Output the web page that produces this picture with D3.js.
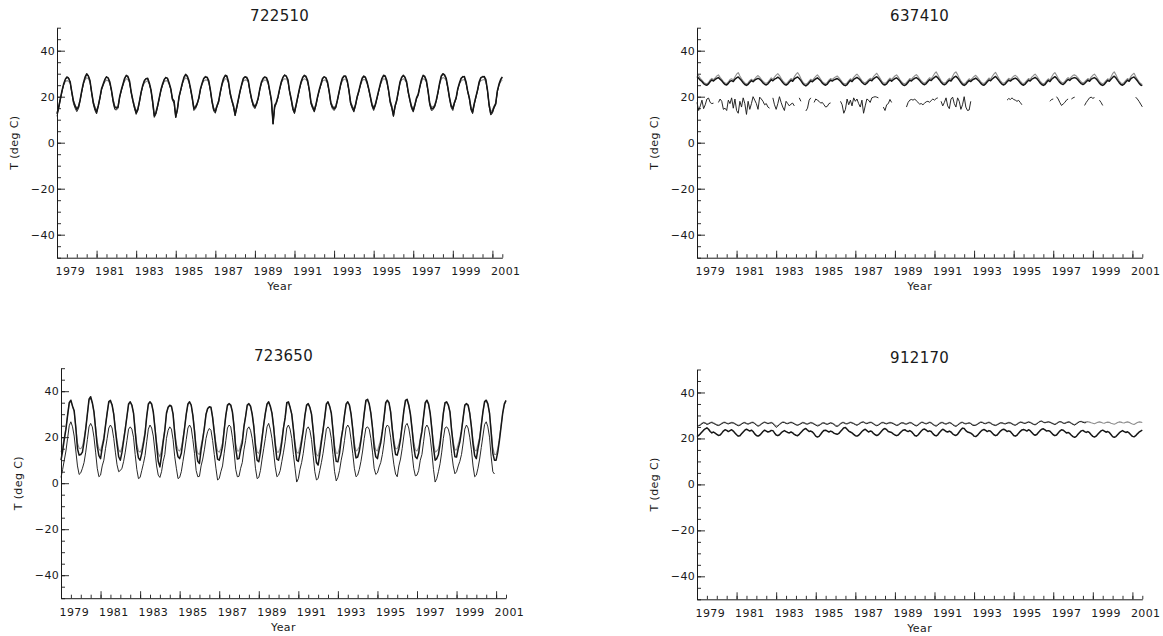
<!DOCTYPE html>
<html><head><meta charset="utf-8">
<script src="https://cdn.jsdelivr.net/npm/d3@7"></script>
<style>
body{margin:0;background:#fff}
text{font-family:"DejaVu Sans",sans-serif;fill:#1a1a1a}
</style>
</head><body>
<svg id="chart" width="1163" height="636"></svg>
<script>
// ---------------- data ----------------
const startYear = 1979;            // first month = Jan 1979, monthly values
const xDomain = [1979, 2001.5];
const yDomain = [-50, 50];
const xTickYears = [1979,1981,1983,1985,1987,1989,1991,1993,1995,1997,1999,2001];
const yTickValues = [-40,-20,0,20,40];
const stationIds = ["722510","637410","723650","912170"];

// 722510
const s722510_thick = [
[12.5,15.5,19.0,22.5,25.5,27.5,28.6,28.0,26.5,22.0,18.0,16.0],
[14.5,15.5,18.5,22.5,26.0,28.5,30.0,29.0,27.0,22.0,17.5,15.0],
[13.3,16.0,19.5,23.5,25.5,27.5,28.6,28.2,26.5,23.0,18.5,15.5],
[15.0,15.5,20.0,23.0,25.5,28.0,29.3,28.8,26.8,22.0,18.5,15.5],
[13.0,14.5,18.0,22.0,25.0,27.0,27.8,28.0,26.0,23.0,18.0,11.6],
[13.0,16.0,19.5,23.0,25.5,27.5,28.3,28.0,26.0,23.5,19.0,18.0],
[11.3,14.5,20.0,23.0,26.0,28.5,29.7,29.0,27.0,23.5,19.5,14.8],
[15.5,17.0,19.5,23.5,26.0,28.0,28.6,28.5,27.0,23.0,18.0,14.5],
[13.6,16.0,18.0,22.0,25.5,28.0,29.3,29.0,26.5,21.5,18.5,16.0],
[12.2,15.5,19.0,22.5,25.5,28.0,28.6,28.5,27.0,22.5,19.0,16.5],
[15.5,17.0,19.5,23.5,26.5,28.0,28.6,28.3,26.5,22.5,18.5,8.4],
[16.0,17.5,20.0,23.5,26.5,28.5,29.3,29.0,27.5,22.5,19.0,15.0],
[13.3,16.5,20.0,23.5,26.5,28.5,29.3,28.8,27.0,23.0,17.5,15.5],
[14.0,16.5,20.0,23.0,25.5,28.0,28.6,28.3,26.5,22.5,17.5,15.5],
[14.8,15.5,18.5,22.0,25.5,28.0,29.0,29.0,27.0,23.0,17.5,15.5],
[14.0,16.5,20.0,22.5,25.5,28.0,29.0,28.5,26.5,23.5,20.0,16.5],
[14.8,16.5,19.5,22.5,25.5,28.0,29.3,29.0,27.0,23.0,18.0,15.5],
[11.9,16.0,18.5,22.5,26.5,28.5,29.3,28.5,26.5,22.0,18.5,15.5],
[14.0,16.5,19.5,21.0,24.5,27.5,29.3,28.8,27.0,22.5,17.0,14.8],
[15.0,16.0,18.5,22.0,26.0,29.0,30.0,29.5,28.0,24.0,19.5,16.0],
[14.8,17.5,19.5,23.5,26.0,28.0,28.6,28.8,26.5,22.5,19.5,15.0],
[13.3,17.0,20.0,23.0,26.5,28.3,28.6,28.8,27.5,23.0,16.5,12.6],
[13.5,15.5,17.0,22.5,25.5,27.5,28.6]].flat();
const s722510_thin = [
[11.5,14.5,18.5,22.0,25.0,27.3,28.3,28.4,26.0,21.5,17.0,15.0],
[13.5,14.8,18.0,22.0,25.5,28.0,29.6,29.2,26.5,21.5,16.8,14.0],
[12.5,15.5,19.0,23.0,25.0,27.2,28.8,28.0,26.0,22.5,17.5,14.5],
[14.2,15.0,19.5,22.5,25.0,27.8,29.0,28.5,26.2,21.5,17.8,14.8],
[12.3,14.0,17.5,21.5,24.5,26.8,28.0,27.6,25.5,22.5,17.0,11.0],
[12.5,15.5,19.0,22.5,25.0,27.3,28.5,27.8,25.6,23.0,18.5,17.0],
[10.8,14.0,19.5,22.5,25.5,28.2,29.4,28.6,26.5,23.0,19.0,14.0],
[14.8,16.5,19.0,23.0,25.5,27.8,28.9,28.2,26.5,22.5,17.5,13.8],
[12.8,15.5,17.5,21.5,25.0,27.7,29.0,28.7,26.0,21.0,18.0,15.3],
[11.6,15.0,18.5,22.0,25.0,27.7,28.8,28.2,26.5,22.0,18.5,15.8],
[14.8,16.5,19.0,23.0,26.0,27.7,28.4,28.0,26.0,22.0,18.0,8.0],
[15.2,17.0,19.5,23.0,26.0,28.3,29.6,28.7,27.0,22.0,18.5,14.2],
[12.6,16.0,19.5,23.0,26.0,28.2,29.0,28.5,26.5,22.5,16.8,14.8],
[13.3,16.0,19.5,22.5,25.0,27.7,28.8,28.0,26.0,22.0,16.8,14.8],
[14.0,15.0,18.0,21.5,25.0,27.7,28.7,28.8,26.5,22.5,16.8,14.8],
[13.3,16.0,19.5,22.0,25.0,27.7,28.7,28.2,26.0,23.0,19.5,15.8],
[14.0,16.0,19.0,22.0,25.0,27.7,29.0,28.7,26.5,22.5,17.3,14.8],
[11.3,15.5,18.0,22.0,26.0,28.2,29.0,28.2,26.0,21.5,18.0,14.8],
[13.3,16.0,19.0,20.5,24.0,27.2,29.0,28.5,26.5,22.0,16.3,14.0],
[14.3,15.5,18.0,21.5,25.5,28.7,29.7,29.2,27.5,23.5,19.0,15.3],
[14.0,17.0,19.0,23.0,25.5,27.7,28.9,28.5,26.0,22.0,19.0,14.2],
[12.6,16.5,19.5,22.5,26.0,28.0,28.9,28.5,27.0,22.5,15.8,12.0],
[12.8,15.0,16.5,22.0,25.0,27.2,28.3]].flat();
const s722510_gray = [
[13.0,15.8,19.0,22.3,25.0,26.5,27.0,26.8,25.8,22.0,18.3,16.3],
[15.0,16.0,18.7,22.3,25.5,27.3,28.3,27.8,26.3,22.0,17.8,15.5],
[14.0,16.3,19.5,23.0,25.0,26.5,27.2,27.0,25.8,22.8,18.8,16.0],
[15.5,16.0,20.0,22.8,25.0,26.8,27.8,27.5,26.0,22.0,18.8,16.0],
[13.8,15.0,18.3,22.0,24.5,26.0,26.6,26.8,25.3,22.8,18.3,12.5],
[13.8,16.3,19.5,22.8,25.0,26.5,27.0,26.8,25.3,23.3,19.3,18.3],
[12.2,15.0,20.0,22.8,25.5,27.3,28.2,27.8,26.3,23.3,19.8,15.5],
[16.0,17.3,19.5,23.3,25.5,26.8,27.3,27.2,26.3,22.8,18.3,15.2],
[14.3,16.3,18.3,22.0,25.0,26.8,27.8,27.6,25.8,21.8,18.8,16.5],
[13.0,16.0,19.0,22.5,25.0,26.8,27.3,27.2,26.3,22.5,19.3,17.0],
[16.0,17.3,19.5,23.3,26.0,26.8,27.3,27.0,25.8,22.5,18.8,9.5],
[16.5,17.8,20.0,23.3,26.0,27.3,27.8,27.6,26.6,22.5,19.3,15.8],
[14.2,16.8,20.0,23.3,26.0,27.3,27.8,27.5,26.3,22.8,18.0,16.0],
[14.8,16.8,20.0,22.8,25.0,26.8,27.3,27.0,25.8,22.5,18.0,16.0],
[15.5,16.0,18.8,22.0,25.0,26.8,27.6,27.6,26.3,22.8,18.0,16.0],
[14.8,16.8,20.0,22.5,25.0,26.8,27.6,27.2,25.8,23.3,20.3,17.0],
[15.5,16.8,19.5,22.5,25.0,26.8,27.8,27.6,26.3,22.8,18.5,16.0],
[12.8,16.3,18.8,22.5,26.0,27.3,27.8,27.2,25.8,22.0,18.8,16.0],
[14.8,16.8,19.5,21.3,24.3,26.5,27.8,27.5,26.3,22.5,17.5,15.5],
[15.7,16.3,18.8,22.0,25.5,27.6,28.3,28.0,27.0,23.8,19.8,16.5],
[15.5,17.8,19.5,23.3,25.5,26.8,27.3,27.5,25.8,22.5,19.8,15.8],
[14.2,17.3,20.0,22.8,26.0,27.0,27.3,27.5,26.6,22.8,17.0,13.5],
[14.3,16.0,17.3,22.5,25.0,26.5,27.3]].flat();

// 637410
const s637410_thick = [
[28.8,28.0,27.2,26.6,25.7,25.2,25.0,25.6,26.6,27.3,26.8,27.5],
[28.0,28.3,27.6,26.9,26.0,25.3,25.1,25.8,26.7,27.0,26.6,27.6],
[28.2,28.6,27.8,27.0,26.1,25.3,24.9,25.4,26.3,27.0,26.5,27.2],
[27.6,28.0,27.6,26.9,26.0,25.4,25.1,25.6,26.5,27.4,26.9,27.6],
[28.0,28.5,28.0,27.1,26.2,25.4,25.0,25.5,26.4,27.2,26.7,27.7],
[28.2,28.6,27.9,27.0,25.9,25.1,24.7,25.2,26.1,26.9,26.5,27.2],
[27.7,28.2,27.6,26.9,25.9,25.3,25.0,25.5,26.5,27.2,26.8,27.3],
[27.6,27.9,27.4,26.7,25.8,25.1,24.8,25.3,26.3,27.1,26.6,27.5],
[28.0,28.4,27.9,27.2,26.3,25.6,25.3,25.9,26.7,27.3,26.9,27.8],
[28.3,28.7,28.0,27.1,26.1,25.3,25.1,25.6,26.6,27.3,26.7,27.4],
[27.9,28.2,27.6,26.8,25.8,25.1,24.9,25.4,26.3,27.2,26.8,27.5],
[28.0,28.3,27.8,27.0,26.2,25.5,25.2,25.7,26.6,27.4,27.0,27.8],
[28.4,28.9,28.2,27.3,26.3,25.5,25.2,25.6,26.5,27.2,26.8,27.8],
[28.5,28.9,28.2,27.2,26.2,25.3,24.9,25.4,26.3,27.0,26.6,27.3],
[27.7,28.1,27.5,26.8,25.9,25.2,25.0,25.6,26.5,27.3,26.9,27.7],
[28.3,28.8,28.0,27.1,26.2,25.4,25.1,25.6,26.5,27.2,26.8,27.4],
[27.8,28.1,27.7,26.9,26.0,25.3,25.0,25.5,26.4,27.2,26.8,27.6],
[28.0,28.4,27.9,27.0,26.0,25.3,24.9,25.3,26.3,27.1,26.6,27.6],
[28.2,28.7,28.1,27.1,26.2,25.6,25.3,25.9,26.8,27.5,27.1,27.8],
[28.1,28.3,28.0,27.3,26.4,25.7,25.3,25.7,26.5,27.2,26.7,27.6],
[28.0,28.3,27.8,26.9,25.9,25.2,24.9,25.4,26.3,27.1,26.7,27.6],
[28.4,28.9,28.2,27.1,26.1,25.3,25.0,25.5,26.4,27.2,26.7,27.8],
[28.3,28.6,27.8,26.9,25.9,25.1,24.8]].flat();
const s637410_gray = [
[29.6,29.2,28.0,27.2,26.3,25.8,25.6,26.2,27.3,28.0,27.4,28.2],
[29.0,29.5,28.4,27.5,26.6,25.9,25.7,26.4,27.5,27.8,27.3,28.6],
[29.8,30.5,29.0,27.8,26.8,26.0,25.5,26.0,27.0,27.6,27.0,27.8],
[28.6,29.2,28.5,27.6,26.7,26.1,25.8,26.3,27.2,28.2,27.6,28.5],
[29.4,30.0,29.2,28.0,26.9,26.1,25.6,26.2,27.1,27.9,27.4,28.6],
[29.7,30.5,29.4,27.9,26.6,25.8,25.4,25.9,26.8,27.6,27.1,28.0],
[28.8,29.5,28.6,27.6,26.5,25.9,25.7,26.2,27.2,27.9,27.5,28.1],
[28.6,29.0,28.3,27.4,26.4,25.7,25.5,26.0,27.0,27.8,27.3,28.4],
[29.2,29.8,29.0,28.0,27.0,26.3,26.0,26.6,27.4,28.0,27.6,28.7],
[29.5,30.2,29.1,28.0,26.8,26.0,25.8,26.3,27.3,28.1,27.4,28.3],
[29.0,29.5,28.6,27.5,26.5,25.8,25.6,26.1,27.0,27.9,27.5,28.4],
[29.1,29.6,28.8,27.8,26.9,26.2,25.9,26.4,27.4,28.2,27.8,28.8],
[30.0,30.8,29.5,28.2,27.0,26.2,25.9,26.3,27.3,28.0,27.5,28.9],
[30.2,30.8,29.6,28.1,26.9,26.0,25.6,26.1,27.0,27.8,27.3,28.1],
[28.8,29.3,28.5,27.6,26.6,25.9,25.7,26.3,27.2,28.1,27.6,28.8],
[29.8,30.6,29.3,28.0,26.9,26.1,25.8,26.3,27.2,28.0,27.5,28.2],
[28.9,29.3,28.7,27.8,26.8,26.0,25.7,26.2,27.1,27.9,27.5,28.5],
[29.2,29.8,29.0,27.9,26.8,26.0,25.6,26.0,27.0,27.8,27.3,28.6],
[29.8,30.5,29.3,28.0,27.0,26.3,26.0,26.6,27.6,28.3,27.8,28.6],
[29.3,29.5,29.0,28.2,27.2,26.4,26.0,26.4,27.2,27.9,27.4,28.5],
[29.3,29.8,28.9,27.8,26.7,25.9,25.6,26.1,27.0,27.8,27.4,28.6],
[30.0,30.8,29.5,28.0,26.8,26.0,25.7,26.2,27.1,27.9,27.4,28.7],
[29.6,30.2,28.8,27.6,26.6,25.7,25.3]].flat();
// station record with gaps: [first month index, values...]
const s637410_obsSegments = [
[0,[17.5,14.0,16.0,18.5,14.8,16.5,19.0,19.4,17.5,17.0,17.2]],
[13,[17.5,19.0,18.0,14.5,15.0,14.0,18.5,17.0,19.5,15.0,19.0,14.0,12.8,18.0,15.5,19.5,17.0,12.3,18.0,14.5,17.0,20.0,18.5,17.0,14.5,19.8,19.0,18.0,16.5,17.0,15.5,15.0]],
[46,[19.5,16.5,14.5,17.0,20.0,17.5,15.5,14.0,18.0,17.0,16.0,16.8,17.2,16.0]],
[62,[19.5,18.0]],
[66,[13.8,15.0,18.5,19.5]],
[71,[17.5,19.0,18.5,18.0,17.2,17.5,16.5,15.5,15.8,17.0,17.3]],
[87,[18.0,16.5,12.8,14.5,19.0,16.5,18.5,16.0,19.5,18.0,19.0,17.0,15.5,18.5,12.8,16.0,19.0,18.5,17.5,19.5,19.8,20.0,19.8,19.5]],
[113,[15.5,14.0,16.5,17.0,18.8,17.5]],
[127,[15.5,17.5,18.5,18.8,18.5,19.0,18.2,17.5,16.8,17.0,16.5,17.2,17.8,18.0,17.6,18.3,19.0,18.5,19.2,19.5]],
[148,[18.0,16.0,17.5,19.5,16.0,14.8,19.0,19.8,17.0,15.5,19.5,18.0,14.5,16.5,20.0,15.5,14.0,14.2,18.0]],
[188,[18.5,19.2,18.8,19.5,18.8,18.5,18.0,18.4,17.5,16.5]],
[214,[18.0,18.8,19.0]],
[218,[20.0,19.0,17.5,16.2,16.8,17.5,18.5,19.0]],
[227,[19.0,19.5,19.8]],
[235,[16.2,17.5,18.5,19.5,19.8,19.3,19.6]],
[244,[18.5,17.5,16.2]],
[266,[19.8,19.0,18.0,16.8,15.6]]];

// 723650
const s723650_thick = [
[10.0,14.0,19.0,23.5,29.5,35.0,36.1,33.5,31.5,24.0,15.0,12.2],
[12.5,13.5,18.0,23.5,30.0,36.5,37.6,35.0,31.0,23.5,16.0,12.0],
[10.7,15.5,19.0,25.0,30.5,35.5,36.0,34.0,30.0,23.0,17.0,11.5],
[10.0,13.5,18.5,23.5,29.0,34.5,35.4,34.0,30.5,22.5,15.0,11.0],
[10.0,13.0,17.0,21.5,29.0,34.5,35.4,34.5,31.0,24.0,16.5,9.5],
[7.1,12.0,18.0,23.0,30.5,33.0,33.9,33.5,30.0,21.5,15.0,11.5],
[10.7,13.0,18.5,24.0,30.0,34.5,35.4,34.0,29.5,22.5,14.0,9.5],
[8.6,14.5,19.0,24.0,30.0,32.5,33.2,33.0,28.5,22.0,15.5,10.5],
[10.0,12.5,16.0,23.0,29.5,34.0,34.6,34.0,31.0,24.5,15.0,10.5],
[10.7,14.5,17.5,24.5,29.0,34.0,34.6,33.5,30.0,24.5,15.5,10.0],
[9.3,13.5,19.5,25.5,30.5,34.5,35.4,33.5,30.5,24.5,16.5,10.5],
[10.0,13.0,18.0,24.0,28.5,35.0,35.4,33.0,30.0,23.5,16.0,10.0],
[9.5,13.5,18.0,23.0,29.5,34.0,34.6,33.0,30.0,23.0,14.5,9.0],
[7.9,12.5,18.0,23.0,28.5,34.5,35.4,33.5,30.5,23.0,14.0,9.5],
[9.3,13.0,19.0,23.5,29.5,34.5,35.4,34.0,30.0,23.5,15.5,11.0],
[11.4,14.0,18.5,24.0,30.5,36.0,36.5,34.5,30.5,24.0,15.5,11.5],
[10.7,14.5,17.5,22.5,28.5,35.0,36.1,35.0,31.0,23.5,17.0,12.5],
[12.2,15.0,19.0,25.0,31.5,36.0,36.5,34.0,30.0,23.5,16.0,11.5],
[10.7,13.0,18.5,22.5,29.0,35.0,36.1,34.5,30.5,23.5,15.5,10.0],
[10.7,12.5,17.0,23.5,30.5,35.0,35.4,34.0,31.0,23.0,16.5,11.5],
[11.4,15.0,18.0,22.5,28.5,34.0,34.6,34.0,30.5,24.5,17.0,12.0],
[10.7,15.0,19.0,25.0,31.0,35.5,36.1,34.5,30.5,22.0,13.0,10.0],
[10.0,13.5,18.5,24.5,30.5,34.5,36.0]].flat();
const s723650_gray = [
[13.5,16.0,20.0,24.0,29.5,34.5,35.5,33.5,31.0,24.5,17.5,15.2],
[15.0,16.0,19.5,24.0,30.0,36.0,37.0,34.8,31.0,24.5,18.0,15.0],
[14.0,17.0,20.0,25.0,30.5,35.0,35.5,34.0,30.0,24.0,18.5,14.5],
[13.5,15.5,19.5,24.0,29.0,34.0,35.0,33.8,30.5,23.5,17.0,14.0],
[13.5,15.0,18.5,22.5,29.0,34.0,35.0,34.2,30.8,24.5,18.0,13.0],
[11.5,14.5,19.0,23.5,30.0,33.0,33.5,33.3,30.0,23.0,17.0,14.5],
[14.0,15.5,19.5,24.5,30.0,34.0,35.0,33.8,29.5,23.5,16.5,13.0],
[12.5,16.5,20.0,24.5,30.0,32.5,33.0,32.8,28.8,23.0,17.5,14.0],
[13.5,15.0,17.5,23.5,29.5,33.5,34.3,33.8,31.0,25.0,17.0,14.0],
[14.0,16.5,19.0,25.0,29.0,33.5,34.3,33.3,30.0,25.0,17.5,13.5],
[13.0,15.5,20.5,25.5,30.5,34.0,35.0,33.3,30.5,25.0,18.0,13.5],
[13.5,15.5,19.5,24.5,28.5,34.5,35.0,33.0,30.0,24.0,17.5,13.5],
[13.0,16.0,19.5,23.5,29.5,33.5,34.3,32.8,30.0,23.5,16.5,12.5],
[11.8,15.0,19.5,23.5,28.5,34.0,35.0,33.3,30.5,23.5,16.5,13.0],
[13.0,15.5,20.0,24.0,29.5,34.0,35.0,33.8,30.0,24.0,17.5,14.0],
[14.5,16.0,19.5,24.5,30.5,35.5,36.0,34.3,30.5,24.5,17.5,14.5],
[14.0,16.5,19.0,23.5,28.5,34.5,35.6,34.8,31.0,24.0,18.5,15.0],
[15.0,17.0,20.0,25.5,31.0,35.5,36.0,33.8,30.0,24.0,18.0,14.5],
[14.0,15.5,19.5,23.5,29.0,34.5,35.6,34.3,30.5,24.0,17.5,13.5],
[14.0,15.0,18.5,24.0,30.5,34.5,35.0,33.8,31.0,23.5,18.0,14.5],
[14.5,17.0,19.5,23.5,28.5,33.5,34.2,33.8,30.5,25.0,18.5,14.5],
[14.0,17.0,20.0,25.5,31.0,35.0,35.7,34.3,30.5,23.0,15.5,12.5],
[12.5,15.0,19.5,25.0,30.5,34.0,35.6]].flat();
const s723650_thin = [
[2.5,6.0,10.0,14.0,19.5,25.0,26.7,24.5,20.5,14.0,7.5,3.8],
[4.5,6.5,9.0,13.5,19.0,24.5,26.0,24.5,20.0,13.5,6.5,2.8],
[3.5,7.5,10.0,15.0,19.5,24.0,25.3,24.0,19.5,13.5,8.0,5.0],
[5.5,6.5,9.5,13.5,18.5,23.5,24.5,23.5,20.0,12.5,6.0,2.0],
[2.5,5.5,8.5,12.0,18.0,23.5,25.3,24.0,20.5,14.0,7.5,3.5],
[2.5,5.0,9.5,12.5,19.5,23.0,24.5,23.5,19.0,11.5,6.5,2.0],
[2.5,5.0,9.5,14.0,19.0,24.0,25.3,24.0,19.0,13.0,5.5,2.8],
[3.0,7.5,10.5,14.5,19.5,22.5,23.8,23.0,18.5,12.5,6.5,1.4],
[2.0,5.0,7.5,13.0,18.5,24.0,25.3,24.5,20.0,14.0,6.0,2.8],
[3.0,6.5,9.0,14.5,18.5,23.5,24.5,23.0,19.5,14.0,6.5,2.0],
[2.5,5.5,10.5,15.0,19.5,24.5,26.0,23.5,19.5,13.5,7.0,2.8],
[3.5,5.5,9.5,13.5,18.0,24.0,25.3,23.5,19.5,12.5,6.5,0.5],
[2.0,6.0,9.0,13.0,18.5,23.5,24.5,23.0,19.0,12.0,5.0,1.4],
[2.0,5.5,9.0,13.0,18.0,23.5,24.5,23.5,19.5,12.5,5.0,1.0],
[2.5,5.5,10.0,13.5,18.5,24.0,25.3,24.0,19.0,13.0,6.5,2.8],
[3.5,6.0,9.5,14.0,19.5,24.0,24.5,23.5,19.5,13.5,6.5,3.8],
[4.5,7.0,9.0,12.5,17.5,24.0,25.3,24.5,20.0,13.5,8.0,4.0],
[2.8,7.5,10.5,15.0,20.5,25.0,26.0,24.0,19.5,13.0,6.5,3.2],
[3.5,5.5,10.0,12.5,18.0,24.0,25.3,24.0,20.0,13.5,6.0,0.5],
[2.0,5.0,8.5,13.5,19.5,24.0,24.5,23.5,20.5,13.0,7.5,4.1],
[5.0,7.5,9.5,12.5,17.5,23.5,25.3,24.0,20.0,14.5,7.5,2.8],
[3.5,6.5,10.5,15.5,20.5,25.5,26.7,24.5,20.0,11.5,5.0,4.0]].flat();

// 912170
const s912170_thick = [
[20.8,21.3,22.0,22.8,23.6,24.2,24.6,24.0,23.0,22.4,22.8,22.3],
[21.8,21.3,21.5,22.3,23.2,23.8,23.5,23.0,23.4,23.8,23.2,22.4],
[21.6,21.0,21.2,22.0,22.8,23.6,24.0,23.6,23.2,23.6,23.0,22.0],
[21.3,21.0,21.4,22.2,23.0,23.6,23.2,22.8,23.0,23.5,23.4,22.4],
[21.5,21.2,21.6,22.4,23.0,23.4,23.0,22.6,22.4,22.8,22.4,21.8],
[21.4,21.2,21.8,22.6,23.4,24.0,24.3,23.6,23.0,23.2,22.8,22.0],
[21.0,20.6,20.9,21.8,22.8,23.5,23.6,23.2,22.8,23.2,22.9,22.3],
[22.0,21.8,22.2,23.0,23.8,24.6,24.8,24.0,23.2,22.8,22.4,21.8],
[21.2,21.0,21.4,22.2,23.0,23.6,24.0,23.4,22.8,23.2,23.0,22.2],
[21.6,21.3,21.6,22.4,23.2,24.0,24.3,23.8,23.0,22.8,22.6,22.0],
[21.5,21.2,21.5,22.3,23.0,23.6,23.8,23.3,23.0,23.4,23.0,22.2],
[21.3,21.0,21.5,22.4,23.2,23.9,24.1,23.6,23.0,23.3,23.0,22.1],
[21.4,21.1,21.6,22.6,23.4,24.0,23.6,23.0,22.8,23.2,22.8,22.0],
[21.5,21.3,21.8,22.8,23.8,24.5,24.3,23.4,22.8,22.6,22.3,21.8],
[21.0,20.8,21.3,22.2,23.0,23.6,23.9,23.5,23.0,23.4,23.1,22.4],
[21.6,21.2,21.5,22.4,23.2,23.8,24.0,23.6,23.0,23.3,23.0,22.2],
[21.3,21.0,21.4,22.3,23.1,23.7,23.9,23.6,23.2,23.8,23.4,22.6],
[21.8,21.4,21.7,22.6,23.4,24.0,24.2,23.7,23.2,23.4,23.1,22.4],
[21.6,21.2,21.5,22.4,23.2,23.8,23.6,23.0,22.4,22.6,22.2,21.4],
[20.8,20.5,20.9,21.8,22.6,23.3,23.5,23.0,22.6,23.0,22.5,21.6],
[20.9,20.6,21.0,21.8,22.6,23.3,23.6,23.2,22.7,23.0,22.6,21.7],
[20.8,20.5,20.8,21.6,22.4,23.0,23.4,23.0,22.6,22.9,22.4,21.6],
[20.9,20.7,21.2,22.0,22.7,23.2,23.6]].flat();
const s912170_gray = [
[25.4,25.6,26.0,26.6,27.0,26.8,26.3,26.5,26.9,27.1,26.8,26.4],
[26.0,25.8,26.1,26.6,27.0,27.1,26.7,26.5,26.8,27.0,26.9,26.5],
[26.1,25.7,25.9,26.4,26.9,27.0,26.6,26.4,26.7,27.0,27.1,26.6],
[26.0,25.5,25.8,26.4,26.9,27.2,26.9,26.6,26.8,27.0,26.7,26.0],
[25.4,25.6,26.2,26.8,27.2,27.1,26.7,26.6,26.9,27.1,26.9,26.5],
[26.1,25.9,26.2,26.6,27.0,26.9,26.5,26.4,26.7,27.0,26.8,26.4],
[26.0,25.7,25.9,26.3,26.8,26.9,26.5,26.3,26.6,26.9,26.7,26.3],
[25.7,25.5,25.9,26.5,27.0,27.0,26.6,26.5,26.8,27.1,26.9,26.6],
[26.2,25.9,26.3,26.8,27.2,27.2,26.8,26.6,26.9,27.1,27.0,26.5],
[26.0,25.7,26.0,26.5,27.0,27.0,26.7,26.5,26.8,27.0,26.9,26.6],
[26.2,25.8,26.0,26.5,26.9,26.9,26.5,26.4,26.7,27.0,26.9,26.4],
[25.9,25.6,26.0,26.6,27.1,27.1,26.7,26.5,26.8,27.1,26.9,26.3],
[25.8,25.6,26.0,26.6,27.0,27.0,26.6,26.4,26.7,27.0,26.8,26.2],
[25.7,25.5,25.9,26.5,27.0,27.1,26.7,26.5,26.7,26.9,26.6,26.0],
[25.8,25.9,26.3,26.8,27.2,27.1,26.7,26.6,26.9,27.1,26.8,26.3],
[26.0,25.8,26.1,26.5,26.9,26.9,26.6,26.5,26.8,27.0,26.9,26.5],
[26.1,25.9,26.3,26.8,27.2,27.1,26.8,26.7,27.0,27.3,27.1,26.7],
[26.3,26.1,26.5,27.0,27.5,27.6,27.2,26.9,27.1,27.3,27.1,26.8],
[26.5,26.2,26.6,27.1,27.4,27.2,26.8,26.7,27.0,27.3,27.2,26.7],
[26.3,26.0,26.5,27.0,27.4,27.5,27.2,27.0,27.2,27.3,27.1,26.8],
[26.6,26.4,26.7,27.0,27.2,27.0,26.7,26.6,26.9,27.1,27.0,26.6],
[26.4,26.2,26.5,26.9,27.2,27.1,26.8,26.7,27.0,27.2,27.0,26.6],
[26.3,26.1,26.5,26.9,27.2,27.1,26.9]].flat();
const s912170_thin = [
[25.2,25.5,25.8,26.4,26.8,26.6,26.1,26.3,26.7,26.9,26.5,26.2],
[25.8,25.6,25.9,26.4,26.8,26.9,26.5,26.3,26.6,26.8,26.7,26.3],
[25.9,25.5,25.7,26.2,26.7,26.8,26.4,26.2,26.5,26.8,26.9,26.4],
[25.8,25.3,25.6,26.2,26.7,27.0,26.7,26.4,26.6,26.8,26.5,25.6],
[24.8,25.3,26.0,26.6,27.0,26.9,26.5,26.4,26.7,26.9,26.7,26.3],
[25.9,25.7,26.0,26.4,26.8,26.7,26.3,26.2,26.5,26.8,26.6,26.2],
[25.8,25.4,25.6,26.1,26.6,26.7,26.3,26.1,26.4,26.7,26.5,26.1],
[25.4,25.2,25.6,26.3,26.8,26.8,26.4,26.3,26.6,26.9,26.7,26.4],
[26.0,25.7,26.1,26.6,27.0,27.1,26.6,26.4,26.7,26.9,26.8,26.3],
[25.8,25.5,25.8,26.3,26.8,26.8,26.5,26.3,26.6,26.8,26.7,26.4],
[26.0,25.6,25.8,26.3,26.7,26.7,26.3,26.2,26.5,26.8,26.7,26.2],
[25.7,25.4,25.8,26.4,26.9,26.9,26.5,26.3,26.6,26.9,26.7,26.1],
[25.6,25.3,25.8,26.4,26.8,26.8,26.4,26.2,26.5,26.8,26.6,26.0],
[25.5,25.2,25.7,26.3,26.8,26.9,26.5,26.3,26.5,26.7,26.4,25.8],
[25.6,25.7,26.1,26.6,27.0,26.9,26.5,26.4,26.7,26.9,26.6,26.1],
[25.8,25.6,25.9,26.3,26.7,26.7,26.4,26.3,26.6,26.8,26.7,26.3],
[25.9,25.7,26.1,26.6,27.0,26.9,26.6,26.5,26.8,27.1,26.9,26.5],
[26.1,25.9,26.3,26.9,27.4,27.5,27.0,26.8,27.0,27.2,27.0,26.6],
[26.3,26.0,26.4,26.9,27.3,27.1,26.6,26.5,26.8,27.1,27.0,26.5],
[26.1,25.8,26.3,26.8,27.3,27.3,27.0,26.8,26.9]].flat();

// build gapped station series for 637410
const s637410_obs = new Array(s637410_thick.length).fill(null);
s637410_obsSegments.forEach(([start, vals]) => vals.forEach((v, k) => { s637410_obs[start + k] = v; }));

// ---------------- layout / style ----------------
const styles = {
  gray:  {stroke: "#8e8e8e", width: 1.1},
  thick: {stroke: "#161616", width: 1.5},
  thin:  {stroke: "#1c1c1c", width: 0.95}
};
const panels = [
  {title: stationIds[0], box: {x0: 57,  x1: 502.3,  y0: 27.7,  y1: 257.7},
   series: [["gray", s722510_gray], ["thin", s722510_thin], ["thick", s722510_thick]]},
  {title: stationIds[1], box: {x0: 697, x1: 1142.3, y0: 27.7,  y1: 257.7},
   series: [["gray", s637410_gray], ["thick", s637410_thick], ["thin", s637410_obs]]},
  {title: stationIds[2], box: {x0: 61,  x1: 506,    y0: 368.2, y1: 598.2},
   series: [["gray", s723650_gray], ["thick", s723650_thick], ["thin", s723650_thin]]},
  {title: stationIds[3], box: {x0: 697, x1: 1142.3, y0: 369.5, y1: 599.3},
   series: [["gray", s912170_gray], ["thick", s912170_thick], ["thin", s912170_thin]]}
];

const svg = d3.select("#chart");
const minorX = d3.range(xDomain[0], xDomain[1] + 0.001, 0.5);
const minorY = d3.range(yDomain[0], yDomain[1] + 0.001, 5);

panels.forEach(p => {
  const b = p.box;
  const x = d3.scaleLinear().domain(xDomain).range([b.x0, b.x1]);
  const y = d3.scaleLinear().domain(yDomain).range([b.y1, b.y0]);
  const g = svg.append("g");

  // lines
  p.series.forEach(([kind, vals]) => {
    const line = d3.line()
      .defined(d => d != null)
      .x((d, i) => x(startYear + i / 12))
      .y(d => y(d));
    g.append("path")
      .attr("d", line(vals))
      .attr("fill", "none")
      .attr("stroke", styles[kind].stroke)
      .attr("stroke-width", styles[kind].width)
      .attr("stroke-linejoin", "round");
  });

  // y axis: minor then major
  g.append("g").attr("transform", `translate(${b.x0},0)`)
    .call(d3.axisLeft(y).tickValues(minorY).tickSizeInner(-4).tickSizeOuter(0).tickFormat(""))
    .call(s => s.select(".domain").remove());
  const ya = g.append("g").attr("transform", `translate(${b.x0},0)`)
    .call(d3.axisLeft(y).tickValues(yTickValues).tickSizeInner(-8).tickSizeOuter(0).tickPadding(1.8)
      .tickFormat(d => d < 0 ? "\u2212" + Math.abs(d) : d));
  ya.selectAll("text").attr("font-size", 11).attr("letter-spacing", "0.4px")
    .attr("font-family", "DejaVu Sans").attr("fill", "#1a1a1a");

  // x axis: minor then major
  g.append("g").attr("transform", `translate(0,${b.y1})`)
    .call(d3.axisBottom(x).tickValues(minorX).tickSizeInner(-3.5).tickSizeOuter(0).tickFormat(""))
    .call(s => s.select(".domain").remove());
  const xa = g.append("g").attr("transform", `translate(0,${b.y1})`)
    .call(d3.axisBottom(x).tickValues(xTickYears).tickSizeInner(-7).tickSizeOuter(0).tickPadding(9.7)
      .tickFormat(d3.format("d")));
  xa.selectAll("text").attr("font-size", 11).attr("letter-spacing", "0.4px")
    .attr("font-family", "DejaVu Sans").attr("fill", "#1a1a1a")
    .attr("text-anchor", "start").attr("x", -2);

  g.selectAll(".domain, .tick line").attr("stroke", "#1a1a1a").attr("stroke-width", 1);
  g.selectAll(".tick line").attr("stroke-width", 0.9);

  // texts
  g.append("text").attr("x", (b.x0 + b.x1) / 2).attr("y", b.y0 - 6.8)
    .attr("text-anchor", "middle").attr("font-size", 15).attr("letter-spacing", "0.3px").text(p.title);
  g.append("text").attr("x", (b.x0 + b.x1) / 2).attr("y", b.y1 + 32.5)
    .attr("text-anchor", "middle").attr("font-size", 11).attr("letter-spacing", "0.4px").text("Year");
  g.append("text")
    .attr("transform", `translate(${b.x0 - 39.5},${(b.y0 + b.y1) / 2}) rotate(-90)`)
    .attr("text-anchor", "middle").attr("font-size", 11).attr("letter-spacing", "0.4px").text("T (deg C)");
});
</script>
</body></html>
